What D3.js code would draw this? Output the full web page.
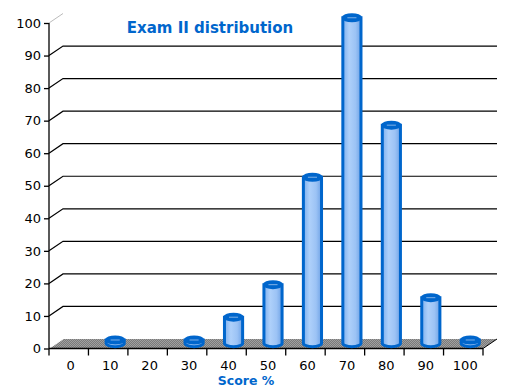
<!DOCTYPE html>
<html>
<head>
<meta charset="utf-8">
<script src="https://cdn.jsdelivr.net/npm/d3@7"></script>
<style>
  body { margin: 0; background: #fff; }
  svg { display: block; }
  .tick-label { font-family: "DejaVu Sans", Verdana, sans-serif; font-size: 13px; fill: #000; }
</style>
</head>
<body>
<div id="chart"></div>
<script>
// exam scores, one bar per 10% band
const categories = ['0', '10', '20', '30', '40', '50', '60', '70', '80', '90', '100'];
const counts = [0, 1, 0, 1, 8, 18, 51, 100, 67, 14, 1];
const yTicks = [0, 10, 20, 30, 40, 50, 60, 70, 80, 90, 100];

const width = 513;
const height = 391;
const blue = '#0066cc';
const font = '"DejaVu Sans", Verdana, sans-serif';

// 3d depth offset of the back wall
const depthX = 14;
const depthY = -9.5;

const svg = d3.select('#chart')
  .append('svg')
  .attr('width', width)
  .attr('height', height)
  .style('font-family', font);

const x = d3.scaleBand().domain(categories).range([49, 483]).padding(0);
const y = d3.scaleLinear().domain([0, 100]).range([348.5, 23]);

const defs = svg.append('defs');
const floorPat = defs.append('pattern')
  .attr('id', 'floor')
  .attr('width', 2).attr('height', 2)
  .attr('patternUnits', 'userSpaceOnUse');
floorPat.append('rect').attr('width', 2).attr('height', 2).attr('fill', '#7a7a7a');
floorPat.append('rect').attr('width', 1).attr('height', 1).attr('fill', '#a0a0a0');
floorPat.append('rect').attr('x', 1).attr('y', 1).attr('width', 1).attr('height', 1).attr('fill', '#a0a0a0');

// body of the cylinders: light centre, darker toward the sides
const barGrad = defs.append('linearGradient')
  .attr('id', 'barfill')
  .attr('x1', '0%').attr('x2', '100%');
barGrad.append('stop').attr('offset', '0%').attr('stop-color', '#7eb0ee');
barGrad.append('stop').attr('offset', '35%').attr('stop-color', '#aed0fa');
barGrad.append('stop').attr('offset', '70%').attr('stop-color', '#9cc3f5');
barGrad.append('stop').attr('offset', '100%').attr('stop-color', '#6fa3e6');

const x0 = x.range()[0];
const x1 = x.range()[1];

// floor
svg.append('path')
  .attr('d', `M${x0},${y(0)} L${x1},${y(0)} L${x1 + depthX},${y(0) + depthY} L${x0 + depthX},${y(0) + depthY} Z`)
  .attr('fill', 'url(#floor)');

// gridlines on back wall + diagonal connectors
const grid = svg.append('g');
yTicks.filter((d) => d > 0 && d < 100).forEach((d) => {
  grid.append('path')
    .attr('d', `M${x0},${y(d)} L${x0 + depthX},${y(d) + depthY} L${x1 + depthX},${y(d) + depthY}`)
    .attr('fill', 'none')
    .attr('stroke', '#000')
    .attr('stroke-width', 1.2);
});
grid.append('line')
  .attr('x1', x0).attr('y1', y(100))
  .attr('x2', x0 + depthX).attr('y2', y(100) + depthY)
  .attr('stroke', '#bbb');

// floor edges
svg.append('line')
  .attr('x1', x0).attr('y1', y(0))
  .attr('x2', x0 + depthX).attr('y2', y(0) + depthY)
  .attr('stroke', '#fff');
svg.append('line')
  .attr('x1', x1).attr('y1', y(0))
  .attr('x2', x1 + depthX).attr('y2', y(0) + depthY)
  .attr('stroke', '#000');

// y axis
const yAxis = svg.append('g')
  .attr('transform', `translate(${x0},0)`)
  .call(d3.axisLeft(y).tickValues(yTicks).tickSize(5).tickPadding(3));
yAxis.selectAll('text').attr('class', 'tick-label');
yAxis.selectAll('line,path').attr('stroke', '#000').attr('stroke-width', 1.3);
yAxis.select('.domain').attr('d', `M0,${y(100)}V${y(0)}`);

// x axis: ticks at band edges, labels at band centres
const xAxis = svg.append('g')
  .attr('transform', `translate(0,${y(0)})`);
xAxis.append('line')
  .attr('x1', x0).attr('x2', x1)
  .attr('stroke', '#000').attr('stroke-width', 1.3);
xAxis.selectAll('.edge')
  .data(categories.concat(['end']))
  .enter()
  .append('line')
  .attr('x1', (d) => (d === 'end' ? x1 : x(d)))
  .attr('x2', (d) => (d === 'end' ? x1 : x(d)))
  .attr('y1', 0).attr('y2', 7)
  .attr('stroke', '#000').attr('stroke-width', 1.3);
xAxis.selectAll('.lbl')
  .data(categories)
  .enter()
  .append('text')
  .attr('class', 'tick-label')
  .attr('x', (d) => x(d) + x.bandwidth() / 2 + 2)
  .attr('y', 21)
  .attr('text-anchor', 'middle')
  .text((d) => d);

// cylinders, placed at half depth
const barW = x.bandwidth() * 0.46;
const r = barW / 2;
const ry = 3.5;
const bars = svg.append('g');
categories.forEach((c, i) => {
  const v = counts[i];
  if (v <= 0) return;
  const cx = x(c) + x.bandwidth() / 2 + depthX / 2;
  const yb = y(0) + depthY / 2 - 0.5;
  let yt = y(v) + depthY / 2 - 0.5;
  if (yb - yt < 1.5) yt = yb - 1.5;
  bars.append('path')
    .attr('d', `M${cx - r},${yt} L${cx - r},${yb} A${r},${ry} 0 0 0 ${cx + r},${yb} L${cx + r},${yt} Z`)
    .attr('fill', 'url(#barfill)')
    .attr('stroke', blue)
    .attr('stroke-width', 3);
  bars.append('ellipse')
    .attr('cx', cx).attr('cy', yt)
    .attr('rx', r).attr('ry', ry)
    .attr('fill', blue)
    .attr('stroke', blue)
    .attr('stroke-width', 2);
  bars.append('line')
    .attr('x1', cx - r / 2).attr('x2', cx + r / 2)
    .attr('y1', yt).attr('y2', yt)
    .attr('stroke', '#7fb0e6')
    .attr('stroke-width', 1);
});

// titles
svg.append('text')
  .attr('x', 210).attr('y', 33)
  .attr('text-anchor', 'middle')
  .attr('font-size', '15px')
  .attr('font-weight', 'bold')
  .attr('fill', blue)
  .text('Exam II distribution');

svg.append('text')
  .attr('x', 246).attr('y', 385)
  .attr('text-anchor', 'middle')
  .attr('font-size', '12.5px')
  .attr('font-weight', 'bold')
  .attr('fill', blue)
  .text('Score %');
</script>
</body>
</html>
